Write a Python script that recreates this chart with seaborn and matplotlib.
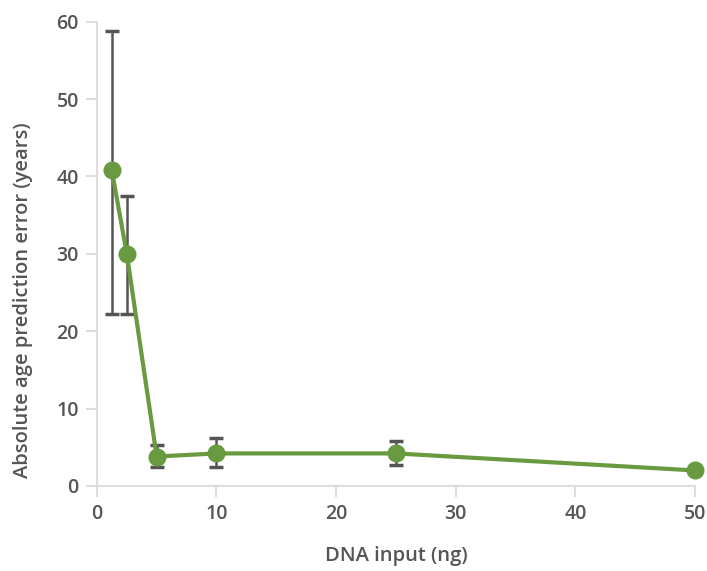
import matplotlib
matplotlib.use('Agg')
from matplotlib import pyplot as plt
import seaborn as sns
import pandas as pd

# DNA input amounts and their mean absolute age prediction error
dna_input = [1.25, 2.5, 5, 10, 25, 50]
mean_error = [40.8, 30.0, 3.8, 4.2, 4.2, 2.0]
# error bar extents (lower / upper bounds)
err_low = [22.2, 22.2, 2.4, 2.4, 2.7, 2.0]
err_high = [58.8, 37.5, 5.3, 6.2, 5.85, 2.0]

df = pd.DataFrame({'dna_input': dna_input, 'mean_error': mean_error})

sns.set_style('white')
plt.rcParams['font.family'] = ['Open Sans', 'DejaVu Sans']

text_color = '#555555'
green = '#6a9a3f'

fig, ax = plt.subplots(figsize=(7.07, 5.71), dpi=100)
fig.subplots_adjust(left=0.137, right=0.983, bottom=0.149, top=0.962)

yerr = [
    [m - lo for m, lo in zip(mean_error, err_low)],
    [hi - m for m, hi in zip(mean_error, err_high)],
]
ax.errorbar(
    dna_input, mean_error, yerr=yerr, fmt='none',
    ecolor='#555555', elinewidth=1.8, capsize=5, capthick=2.5, zorder=1
)

sns.lineplot(
    data=df, x='dna_input', y='mean_error', ax=ax,
    color=green, linewidth=3, marker='o', markersize=13,
    markeredgewidth=0, zorder=3
)

ax.set_xlim(0, 50)
ax.set_ylim(0, 60)
ax.set_xticks([0, 10, 20, 30, 40, 50])
ax.set_yticks([0, 10, 20, 30, 40, 50, 60])

for side in ['top', 'right']:
    ax.spines[side].set_visible(False)
for side in ['left', 'bottom']:
    ax.spines[side].set_color('#dddddd')
    ax.spines[side].set_linewidth(1.5)

ax.tick_params(axis='both', which='major', bottom=True, left=True,
               direction='out', length=8, width=1.5,
               color='#dddddd', labelsize=14, labelcolor=text_color, pad=5)
for lab in ax.get_xticklabels() + ax.get_yticklabels():
    lab.set_fontweight('semibold')

ax.set_xlabel('DNA input (ng)', fontsize=14.5, color=text_color,
              fontweight='semibold', labelpad=16)
ax.set_ylabel('Absolute age prediction error (years)', fontsize=14.5,
              color=text_color, fontweight='semibold', labelpad=17, y=0.40)

ax.margins(0)
for art in ax.lines + ax.collections:
    art.set_clip_on(False)

plt.savefig('out.png', dpi=100)
